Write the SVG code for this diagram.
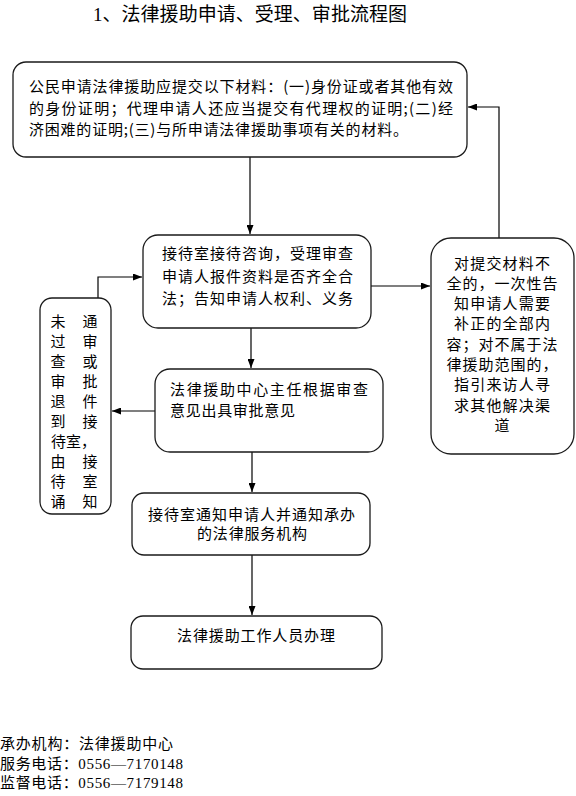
<svg xmlns="http://www.w3.org/2000/svg" width="576" height="796" viewBox="0 0 576 796">
<style>
.box{fill:#fff;stroke:#1a1a1a;stroke-width:1.3}
.t{font-family:"Noto Sans CJK SC",sans-serif;font-size:15px;fill:#000}
.s{font-family:"Liberation Serif","Noto Sans CJK SC",serif;fill:#000}
.c{text-anchor:middle}
.ln{fill:none;stroke:#000;stroke-width:1.2}
</style>
<defs>
<marker id="ah" markerUnits="userSpaceOnUse" markerWidth="9" markerHeight="7" refX="9" refY="3.5" orient="auto">
<path d="M0,0 L9,3.5 L0,7 z" fill="#000"/>
</marker>
</defs>
<text class="s" x="93" y="21" font-size="19" textLength="314" lengthAdjust="spacing">1、法律援助申请、受理、审批流程图</text>
<g id="connectors">
<path class="ln" d="M250,157 V234" marker-end="url(#ah)"/>
<path class="ln" d="M371,286 H430" marker-end="url(#ah)"/>
<path class="ln" d="M499,238 V107 H468" marker-end="url(#ah)"/>
<path class="ln" d="M251,328 V368" marker-end="url(#ah)"/>
<path class="ln" d="M155,411 H112" marker-end="url(#ah)"/>
<path class="ln" d="M98,298 V277 H142" marker-end="url(#ah)"/>
<path class="ln" d="M252,452 V492" marker-end="url(#ah)"/>
<path class="ln" d="M252,555 V615" marker-end="url(#ah)"/>
</g>
<g id="n1">
<rect class="box" x="13" y="62" width="454" height="95" rx="13"/>
<text class="t" x="29" y="92" textLength="424" lengthAdjust="spacing">公民申请法律援助应提交以下材料：(一)身份证或者其他有效</text>
<text class="t" x="29" y="113.5" textLength="424" lengthAdjust="spacing">的身份证明；代理申请人还应当提交有代理权的证明;(二)经</text>
<text class="t" x="29" y="134.5" textLength="379" lengthAdjust="spacing">济困难的证明;(三)与所申请法律援助事项有关的材料。</text>
</g>
<g id="n2">
<rect class="box" x="143" y="235" width="228" height="93" rx="15"/>
<text class="t" x="162" y="259" textLength="191" lengthAdjust="spacing">接待室接待咨询，受理审查</text>
<text class="t" x="162" y="282" textLength="191" lengthAdjust="spacing">申请人报件资料是否齐全合</text>
<text class="t" x="162" y="304" textLength="191" lengthAdjust="spacing">法；告知申请人权利、义务</text>
</g>
<g id="n3">
<rect class="box" x="431" y="238" width="143" height="216" rx="20"/>
<text class="t c" x="502" y="268.5" textLength="96" lengthAdjust="spacing">对提交材料不</text>
<text class="t c" x="502" y="288.8" textLength="111" lengthAdjust="spacing">全的，一次性告</text>
<text class="t c" x="502" y="309.1" textLength="96" lengthAdjust="spacing">知申请人需要</text>
<text class="t c" x="502" y="329.4" textLength="96" lengthAdjust="spacing">补正的全部内</text>
<text class="t c" x="502" y="349.7" textLength="111" lengthAdjust="spacing">容；对不属于法</text>
<text class="t c" x="502" y="370" textLength="111" lengthAdjust="spacing">律援助范围的，</text>
<text class="t c" x="502" y="390.3" textLength="96" lengthAdjust="spacing">指引来访人寻</text>
<text class="t c" x="502" y="410.6" textLength="96" lengthAdjust="spacing">求其他解决渠</text>
<text class="t c" x="502" y="430.9">道</text>
</g>
<g id="n4">
<rect class="box" x="155" y="369" width="228" height="83" rx="15"/>
<text class="t" x="170" y="394.7" textLength="198" lengthAdjust="spacing">法律援助中心主任根据审查</text>
<text class="t" x="170" y="415.7" textLength="125" lengthAdjust="spacing">意见出具审批意见</text>
</g>
<g id="n5">
<rect class="box" x="40" y="298" width="71" height="216" rx="12"/>
<text class="t c" x="58 90" y="327">未通</text>
<text class="t c" x="58 90" y="347">过审</text>
<text class="t c" x="58 90" y="367">查或</text>
<text class="t c" x="58 90" y="387">审批</text>
<text class="t c" x="58 90" y="407">退件</text>
<text class="t c" x="58 90" y="427">到接</text>
<text class="t" x="51" y="447">待室，</text>
<text class="t c" x="58 90" y="467">由接</text>
<text class="t c" x="58 90" y="487">待室</text>
<text class="t c" x="58 90" y="507">诵知</text>
</g>
<g id="n6">
<rect class="box" x="132" y="493" width="238" height="62" rx="12"/>
<text class="t c" x="251.5" y="519.7" textLength="207" lengthAdjust="spacing">接待室通知申请人并通知承办</text>
<text class="t c" x="252" y="538.7" textLength="110" lengthAdjust="spacing">的法律服务机构</text>
</g>
<g id="n7">
<rect class="box" x="131" y="616" width="251" height="53" rx="12"/>
<text class="t c" x="256" y="640.7" textLength="158" lengthAdjust="spacing">法律援助工作人员办理</text>
</g>
<g id="footer">
<text class="s" x="0" y="748.5" font-size="15" textLength="173" lengthAdjust="spacing">承办机构：法律援助中心</text>
<text class="s" x="0" y="768.5" font-size="15" textLength="183" lengthAdjust="spacing">服务电话：0556—7170148</text>
<text class="s" x="0" y="787.5" font-size="15" textLength="183" lengthAdjust="spacing">监督电话：0556—7179148</text>
</g>
</svg>
